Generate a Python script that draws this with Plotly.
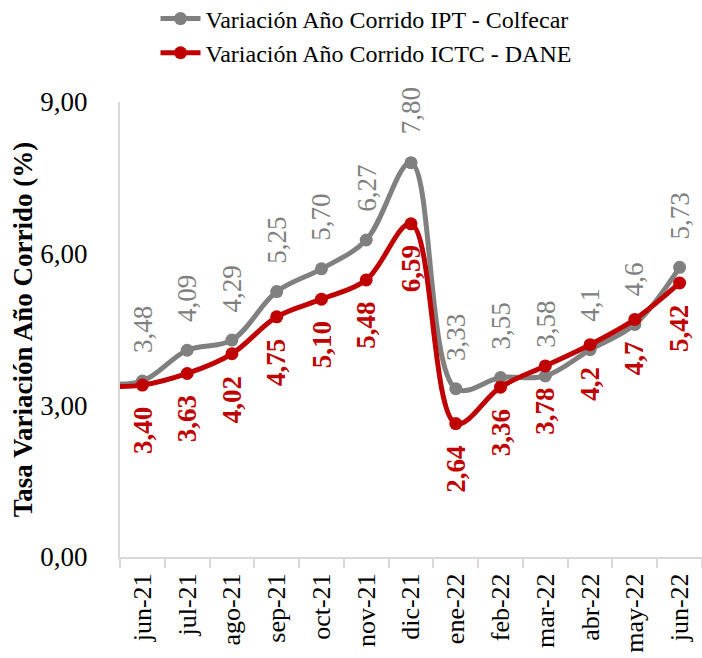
#!/usr/bin/env python3
import plotly.graph_objects as go

# categories (may-21 is outside the visible range, only used so the lines start at the axis)
meses = ["may-21", "jun-21", "jul-21", "ago-21", "sep-21", "oct-21", "nov-21", "dic-21",
         "ene-22", "feb-22", "mar-22", "abr-22", "may-22", "jun-22"]

ipt_colfecar = [3.44, 3.48, 4.09, 4.29, 5.25, 5.70, 6.27, 7.80, 3.33, 3.55, 3.58, 4.1, 4.6, 5.73]
ictc_dane = [3.38, 3.40, 3.63, 4.02, 4.75, 5.10, 5.48, 6.59, 2.64, 3.36, 3.78, 4.2, 4.7, 5.42]

ipt_labels = ["", "3,48", "4,09", "4,29", "5,25", "5,70", "6,27", "7,80",
              "3,33", "3,55", "3,58", "4,1", "4,6", "5,73"]
ictc_labels = ["", "3,40", "3,63", "4,02", "4,75", "5,10", "5,48", "6,59",
               "2,64", "3,36", "3,78", "4,2", "4,7", "5,42"]

GRAY = "#808080"
RED = "#C00000"
FONT = "Liberation Serif"

fig = go.Figure()
fig.add_trace(go.Scatter(
    x=meses, y=ipt_colfecar, name="Variación Año Corrido IPT - Colfecar",
    mode="lines+markers", line=dict(color=GRAY, width=5, shape="spline", smoothing=1),
    marker=dict(color=GRAY, size=13),
))
fig.add_trace(go.Scatter(
    x=meses, y=ictc_dane, name="Variación Año Corrido ICTC - DANE",
    mode="lines+markers", line=dict(color=RED, width=5, shape="spline", smoothing=1),
    marker=dict(color=RED, size=13),
))

annotations = []
for m, v, t in zip(meses, ipt_colfecar, ipt_labels):
    if t:
        annotations.append(dict(x=m, y=v, text=t, showarrow=False, textangle=-90,
                                yanchor="bottom", yshift=26,
                                font=dict(family=FONT, size=27, color=GRAY)))
for m, v, t in zip(meses, ictc_dane, ictc_labels):
    if t:
        annotations.append(dict(x=m, y=v, text="<b>%s</b>" % t, showarrow=False, textangle=-90,
                                yanchor="top", yshift=-20,
                                font=dict(family=FONT, size=27, color=RED)))

fig.update_layout(
    width=702, height=658,
    margin=dict(l=120, r=0, t=102, b=101, autoexpand=False),
    paper_bgcolor="white", plot_bgcolor="white",
    font=dict(family=FONT, color="black"),
    separators=",.",
    showlegend=True,
    legend=dict(x=0.061, y=1.232, xanchor="left", yanchor="top",
                font=dict(family=FONT, size=24, color="black"),
                tracegroupgap=0, itemwidth=40),
    annotations=annotations,
    xaxis=dict(
        type="category", range=[0.5, 13.5],
        showline=True, linecolor="#D9D9D9", linewidth=2,
        ticks="outside", tickson="boundaries", ticklen=9, tickcolor="#D9D9D9", tickwidth=2,
        tickangle=-90, tickfont=dict(family=FONT, size=26, color="black"),
        ticklabelstandoff=4,
        showgrid=False, zeroline=False,
    ),
    yaxis=dict(
        range=[0, 9], tickvals=[0, 3, 6, 9], tickformat=".2f",
        showline=True, linecolor="#D9D9D9", linewidth=2,
        showgrid=False, zeroline=False, ticks="",
        tickfont=dict(family=FONT, size=27, color="black"),
        ticklabelstandoff=25,
        title=dict(text="<b>Tasa Variación Año Corrido (%)</b>",
                   font=dict(family=FONT, size=27, color="black"), standoff=0),
    ),
)

# the page's default body margin would push the 702x658 figure out of the window
fig.write_html("out.html", config={"displayModeBar": False},
               post_script="document.body.style.margin='0';")
